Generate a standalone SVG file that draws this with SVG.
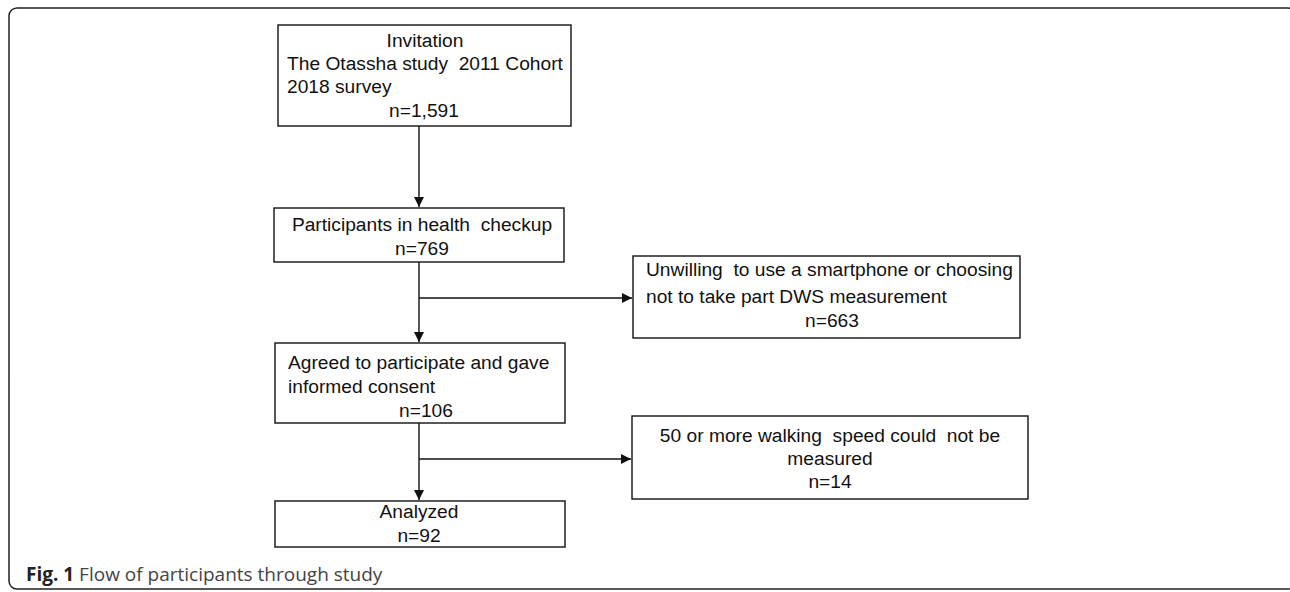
<svg xmlns="http://www.w3.org/2000/svg" width="1290" height="592" viewBox="0 0 1290 592">
<defs>
<style>
.box{fill:#fff;stroke:#111;stroke-width:1.4}
.t{font-family:"Liberation Sans",Arial,sans-serif;font-size:19.2px;fill:#111}
.c{text-anchor:middle}
.ln{fill:none;stroke:#111;stroke-width:1.4}
.cap{font-family:"Open Sans","Noto Sans",sans-serif;font-size:19px;fill:#444}
</style>
<marker id="ah" viewBox="0 0 10 10" refX="10" refY="5" markerWidth="10" markerHeight="10" markerUnits="userSpaceOnUse" orient="auto">
<path d="M0,0 L10,5 L0,10 z" fill="#111"/>
</marker>
</defs>
<rect width="1290" height="592" fill="#fff"/>
<rect x="9" y="8" width="1287" height="581" rx="8" fill="none" stroke="#222" stroke-width="1.5"/>
<g id="connectors">
<line class="ln" x1="419" y1="126" x2="419" y2="207" marker-end="url(#ah)"/>
<line class="ln" x1="419" y1="262" x2="419" y2="342" marker-end="url(#ah)"/>
<line class="ln" x1="419" y1="298" x2="632" y2="298" marker-end="url(#ah)"/>
<line class="ln" x1="419" y1="423" x2="419" y2="500" marker-end="url(#ah)"/>
<line class="ln" x1="419" y1="459" x2="631" y2="459" marker-end="url(#ah)"/>
</g>
<g id="invitation">
<rect class="box" x="278" y="25" width="293" height="101"/>
<text class="t c" x="425" y="47">Invitation</text>
<text class="t" x="287" y="70" xml:space="preserve">The Otassha study  2011 Cohort</text>
<text class="t" x="287" y="93">2018 survey</text>
<text class="t c" x="424" y="117">n=1,591</text>
</g>
<g id="checkup">
<rect class="box" x="274" y="208" width="290" height="54"/>
<text class="t c" x="422" y="231" xml:space="preserve">Participants in health  checkup</text>
<text class="t c" x="422" y="255">n=769</text>
</g>
<g id="unwilling">
<rect class="box" x="633" y="256" width="387" height="82"/>
<text class="t" x="646" y="276" xml:space="preserve">Unwilling  to use a smartphone or choosing</text>
<text class="t" x="646" y="303">not to take part DWS measurement</text>
<text class="t c" x="832" y="327">n=663</text>
</g>
<g id="agreed">
<rect class="box" x="275" y="343" width="290" height="80"/>
<text class="t" x="288" y="369">Agreed to participate and gave</text>
<text class="t" x="288" y="393">informed consent</text>
<text class="t c" x="426" y="417">n=106</text>
</g>
<g id="notmeasured">
<rect class="box" x="632" y="416" width="396" height="83"/>
<text class="t c" x="830" y="442" xml:space="preserve">50 or more walking  speed could  not be</text>
<text class="t c" x="830" y="465">measured</text>
<text class="t c" x="830" y="488">n=14</text>
</g>
<g id="analyzed">
<rect class="box" x="275" y="501" width="290" height="46"/>
<text class="t c" x="419" y="518">Analyzed</text>
<text class="t c" x="419" y="542">n=92</text>
</g>
<text class="cap" x="26" y="581"><tspan font-weight="bold" fill="#222">Fig. 1</tspan> Flow of participants through study</text>
</svg>
